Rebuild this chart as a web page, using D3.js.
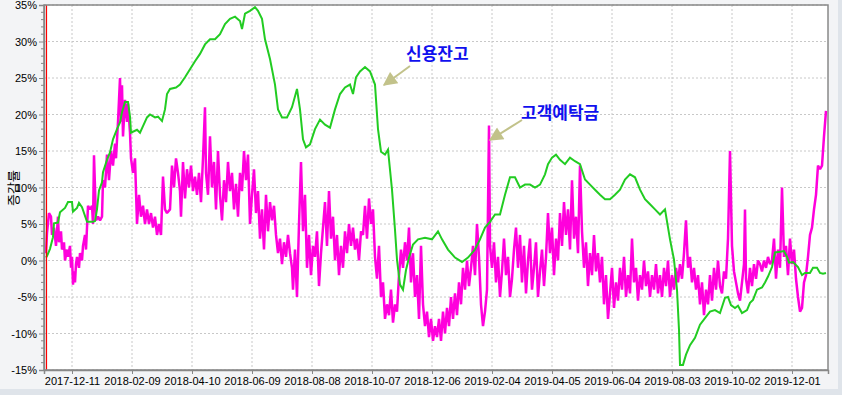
<!DOCTYPE html>
<html>
<head>
<meta charset="utf-8">
<script src="https://cdn.jsdelivr.net/npm/d3@7"></script>
<style>
	html, body { margin: 0; padding: 0; background: #f3f4f6; }
	#chart { display: block; }
	.tick text { font-family: Arial, "Liberation Sans", sans-serif; font-size: 11px; fill: #000; }
</style>
</head>
<body>
<svg id="chart"></svg>
<script>
// day offsets are counted from startDate
var startDate = '2017-11-15';
var tickDates = ['2017-12-11', '2018-02-09', '2018-04-10', '2018-06-09', '2018-08-08', '2018-10-07',
	'2018-12-06', '2019-02-04', '2019-04-05', '2019-06-04', '2019-08-03', '2019-10-02', '2019-12-01'];
var yTicks = [-15, -10, -5, 0, 5, 10, 15, 20, 25, 30, 35];

// 신용잔고
var creditDays = [0,1,4,7,8,12,14,19,22,26,27,31,33,36,38,41,47,49,51,53,56,57,61,64,67,71,74,76,79,82,84,85,91,94,97,101,104,109,112,116,119,121,124,130,134,139,144,149,154,159,164,169,174,179,184,189,194,196,199,204,209,212,216,219,224,229,232,236,241,246,251,254,257,260,264,269,274,279,284,289,294,299,304,307,310,314,319,324,329,332,335,339,342,346,349,351,354,357,360,363,367,372,379,386,392,396,402,409,416,422,429,434,439,444,449,454,459,464,469,474,479,484,489,494,499,502,506,510,514,519,524,529,534,539,544,549,554,559,564,569,574,579,584,589,594,599,604,609,614,619,624,628,631,633,634,637,640,644,649,654,659,664,669,674,679,682,685,689,692,696,701,704,707,711,716,719,722,726,729,734,738,741,743,747,752,756,759,764,767,771,774,777,780];
var creditValues = [0.4,0.6,1.6,3.2,5.1,5.2,6.6,7.2,8.0,8.0,6.7,7.2,7.9,7.3,6.5,5.3,5.3,5.4,7.0,9.6,10.7,12.1,13.8,14.8,16.6,18.0,18.9,20.3,21.7,21.7,19.7,17.5,17.9,17.5,18.4,19.6,20.0,19.6,19.7,19.1,20.7,22.8,23.5,23.7,24.1,25.1,26.2,27.3,28.3,29.6,30.3,30.3,31.0,32.4,33.1,33.4,32.8,31.7,33.8,34.2,34.7,34.2,33.1,30.3,27.6,24.1,20.7,19.6,19.6,21.0,23.5,20.7,16.6,15.5,15.9,18.0,19.3,18.6,18.2,20.7,22.8,23.7,24.1,22.8,25.1,25.9,26.5,25.9,24.1,18.0,14.9,14.5,15.2,9.7,4.2,0.1,-3.3,-4.0,-1.3,0.4,2.2,2.9,3.1,2.9,4.0,2.9,1.5,0.4,-0.2,0.4,1.5,2.9,4.5,5.3,6.3,6.3,9.0,11.4,11.4,10.0,10.4,10.4,10.0,10.4,11.8,13.2,14.1,14.5,13.8,13.2,14.1,13.6,13.2,11.1,10.4,9.7,9.0,8.4,8.4,9.0,9.7,11.1,11.8,11.4,9.7,8.4,7.7,7.0,6.3,7.0,2.9,0.1,-4.0,-9.5,-14.3,-14.3,-12.9,-11.6,-10.6,-8.8,-7.9,-7.0,-6.8,-7.2,-5.1,-5.0,-6.1,-6.5,-6.2,-7.2,-6.8,-5.8,-5.4,-4.0,-3.7,-3.0,-2.2,-0.9,1.1,1.2,1.3,0.5,-0.3,-0.2,-0.9,-2.0,-1.7,-1.7,-1.0,-1.0,-1.7,-1.8,-1.7];

// 고객예탁금
var depositDays = [0,1,3,5,6,8,10,12,13,15,16,18,19,21,22,24,25,26,27,28,29,30,31,33,34,36,37,39,40,42,44,46,47,48,49,50,52,54,56,57,59,61,63,65,67,69,70,72,74,75,76,77,79,81,82,84,85,87,89,91,93,95,97,99,101,103,105,107,109,111,113,115,117,119,121,124,126,128,130,132,134,135,137,139,141,143,145,147,149,151,153,155,157,159,160,162,164,166,168,170,172,174,176,178,180,182,184,186,188,190,192,194,196,198,200,202,204,206,208,210,212,214,216,218,220,222,224,226,228,230,232,234,236,238,240,242,244,246,247,249,251,253,255,257,259,261,263,265,267,269,271,273,275,277,279,281,283,285,287,289,291,293,295,297,299,301,303,305,307,309,311,313,315,317,319,321,323,325,327,329,331,333,335,337,339,341,343,345,347,349,351,353,355,357,359,361,363,365,367,369,371,373,375,377,379,381,383,385,387,389,391,393,395,397,399,401,403,405,407,409,411,413,415,417,419,421,423,425,427,429,431,433,435,437,439,441,443,444,446,448,450,452,454,456,458,460,462,464,466,468,470,472,474,476,478,480,482,484,486,488,490,492,494,496,498,500,502,504,506,508,510,512,514,516,518,520,522,524,526,528,530,532,534,536,538,540,542,544,546,548,550,552,554,556,558,560,562,564,566,568,570,572,574,576,578,580,582,584,586,588,590,592,594,596,598,600,602,604,606,608,610,612,614,616,618,620,622,624,626,628,630,632,634,636,638,640,642,644,646,648,650,652,654,656,658,660,662,664,666,668,670,672,674,676,678,680,682,684,686,688,690,692,694,696,698,699,700,702,704,706,708,710,712,714,716,718,720,722,724,726,728,730,732,734,736,738,740,742,744,746,748,750,752,754,756,758,760,762,764,766,768,770,772,774,776,778,780];
var depositValues = [1.0,3.8,6.5,6.0,3.5,4.5,2.0,6.0,2.5,4.0,1.5,2.5,0.0,1.5,0.5,2.0,-1.0,0.5,-3.3,-1.5,-3.0,-0.5,0.5,-1.0,1.0,0.0,2.0,3.5,1.5,7.5,7.0,7.5,5.0,14.4,10.0,5.5,6.0,5.5,6.0,11.0,10.0,14.5,11.0,15.0,13.0,16.0,14.0,19.0,25.0,19.0,24.0,17.0,22.0,19.0,21.5,17.5,14.0,12.0,14.0,5.0,9.0,6.0,7.5,5.0,7.0,5.0,6.5,4.5,6.0,3.5,5.0,3.5,11.5,7.0,6.5,7.0,13.0,10.0,14.0,12.0,9.5,6.0,13.5,8.5,12.5,10.0,13.0,9.5,11.5,9.0,12.0,8.0,14.0,21.0,12.0,9.0,17.0,10.0,13.5,7.0,15.0,9.0,5.5,11.0,8.0,13.5,9.5,12.0,7.0,10.5,6.0,12.0,9.5,15.0,11.0,14.5,5.0,9.0,12.5,6.5,9.5,3.0,7.0,1.5,9.0,4.0,8.0,5.5,7.5,3.5,1.0,3.0,-0.5,2.5,0.5,3.5,1.0,-1.0,-4.0,1.5,-5.0,5.0,13.5,4.0,9.0,-1.0,3.5,-2.0,2.0,0.5,4.0,-3.5,1.0,4.5,8.0,2.0,9.5,3.0,6.0,0.0,3.5,-2.0,2.0,-1.0,4.0,1.0,5.0,2.0,4.5,1.5,3.0,0.0,4.0,3.5,7.5,3.0,8.5,5.0,7.0,0.5,-2.5,2.0,-5.0,-3.0,-8.0,-6.0,-7.5,-4.0,-8.5,-6.0,-7.0,-2.0,1.5,-1.0,2.5,0.0,4.5,-3.0,1.0,-5.0,-2.0,-8.0,2.0,-6.0,-9.0,-7.0,-10.5,-8.0,-11.0,-9.0,-10.5,-8.0,-11.0,-7.0,-10.0,-6.5,-9.0,-5.0,-8.0,-4.5,-7.5,-3.0,-6.0,-1.0,-4.0,0.0,-3.5,-1.0,2.0,-2.0,5.0,0.5,-6.0,-9.0,-7.0,-4.0,18.5,2.0,-1.0,2.5,-3.0,0.5,-5.0,-1.5,3.0,-2.0,0.5,-5.0,-2.5,1.5,4.5,-1.0,3.5,-3.0,2.0,-4.5,0.0,3.0,-4.0,-1.0,2.5,-5.0,-1.5,1.5,-3.5,0.5,6.5,1.0,4.5,-2.0,3.0,0.0,6.5,2.0,8.0,3.5,7.0,1.5,11.0,3.0,6.0,1.0,13.0,4.0,-1.0,2.5,-3.5,1.0,-2.0,3.5,-1.5,1.0,-3.0,0.5,-6.0,-2.0,-8.0,-4.5,-1.0,-6.5,-3.0,-5.5,-1.0,-4.0,0.5,-5.0,-2.0,-4.5,3.0,-3.0,-1.0,-5.5,-2.0,-4.0,0.0,-3.5,-1.5,-5.0,-2.0,-4.0,-0.5,-4.5,-2.0,-5.0,-1.0,-3.5,0.0,-5.0,-2.0,-4.0,-1.0,-3.0,-0.5,-2.5,1.0,5.5,-1.0,0.5,-3.0,-1.0,-4.0,-2.0,-6.0,-3.0,-7.5,-4.0,-6.0,-2.0,-5.5,-1.0,-4.0,0.0,-3.5,-4.5,-1.5,-2.5,3.0,15.0,2.0,-1.5,-3.0,-4.5,-5.5,-3.0,-0.5,7.0,-2.5,-4.5,-1.0,-3.5,-0.5,-2.5,0.0,-0.5,-1.5,0.0,-1.0,0.5,-0.5,0.0,3.0,-2.5,1.5,-1.0,10.0,0.5,2.0,-2.0,3.0,-0.5,1.5,-2.5,-5.0,-7.0,-6.5,-3.0,-2.0,0.5,3.5,4.5,7.0,9.0,13.0,12.5,13.0,17.0,20.5];

var width = 842,
    height = 395;

var margin = {top: 5, right: 14, bottom: 25, left: 44};

var svg = d3.select('#chart')
	.attr('width', width)
	.attr('height', height);

var parse = d3.utcParse('%Y-%m-%d');
var start = parse(startDate);

var x = d3.scaleUtc()
	.domain([d3.utcDay.offset(start, -2), d3.utcDay.offset(start, 782)])
	.range([margin.left, width - margin.right]);

var y = d3.scaleLinear()
	.domain([-15, 35])
	.range([height - margin.bottom, margin.top]);

// window chrome
svg.append('rect')
	.attr('x', 838).attr('y', 0)
	.attr('width', 4).attr('height', height)
	.attr('fill', '#dfe4ea');
svg.append('rect')
	.attr('x', 0).attr('y', 389)
	.attr('width', width).attr('height', 6)
	.attr('fill', '#dfe4ea');

// plot area
svg.append('rect')
	.attr('x', x.range()[0])
	.attr('y', y.range()[1])
	.attr('width', x.range()[1] - x.range()[0])
	.attr('height', y.range()[0] - y.range()[1])
	.attr('fill', '#fff');

var grid = svg.append('g');

grid.selectAll('.hgrid')
	.data(yTicks)
	.enter()
	.append('line')
	.attr('x1', x.range()[0])
	.attr('x2', x.range()[1])
	.attr('y1', d => y(d))
	.attr('y2', d => y(d))
	.attr('stroke', '#c8c8c8')
	.attr('stroke-dasharray', '2,2');

grid.selectAll('.vgrid')
	.data(tickDates)
	.enter()
	.append('line')
	.attr('x1', d => x(parse(d)))
	.attr('x2', d => x(parse(d)))
	.attr('y1', y.range()[1])
	.attr('y2', y.range()[0])
	.attr('stroke', '#c8c8c8')
	.attr('stroke-dasharray', '2,2');

var deposits = depositDays.map((d, i) => ({date: d3.utcDay.offset(start, d), value: depositValues[i]}));
var credits = creditDays.map((d, i) => ({date: d3.utcDay.offset(start, d), value: creditValues[i]}));

var line = d3.line()
	.x(d => x(d.date))
	.y(d => y(d.value));

svg.append('path')
	.datum(deposits)
	.attr('d', line)
	.attr('fill', 'none')
	.attr('stroke', '#ff00dc')
	.attr('stroke-width', 2.5)
	.attr('stroke-linejoin', 'bevel');

svg.append('path')
	.datum(credits)
	.attr('d', line)
	.attr('fill', 'none')
	.attr('stroke', '#22cc22')
	.attr('stroke-width', 2);

// start marker
svg.append('line')
	.attr('x1', x(start) + 0.5)
	.attr('x2', x(start) + 0.5)
	.attr('y1', y.range()[1])
	.attr('y2', y.range()[0])
	.attr('stroke', '#ff0000')
	.attr('stroke-width', 1.2);

// frame
svg.append('rect')
	.attr('x', x.range()[0])
	.attr('y', y.range()[1])
	.attr('width', x.range()[1] - x.range()[0])
	.attr('height', y.range()[0] - y.range()[1])
	.attr('fill', 'none')
	.attr('stroke', '#888')
	.attr('stroke-width', 1.5);

var yAxis = svg.append('g')
	.attr('transform', `translate(${x.range()[0]},0)`)
	.call(d3.axisLeft(y)
		.tickValues(yTicks)
		.tickSize(5)
		.tickPadding(2)
		.tickFormat(d => d + '%'));

yAxis.append('g')
	.selectAll('line')
	.data(d3.range(-15, 36).filter(d => d % 5 !== 0))
	.enter()
	.append('line')
	.attr('x1', -3)
	.attr('x2', 0)
	.attr('y1', d => y(d))
	.attr('y2', d => y(d))
	.attr('stroke', '#888');

var xAxis = svg.append('g')
	.attr('transform', `translate(0,${y.range()[0]})`)
	.call(d3.axisBottom(x)
		.tickValues(tickDates.map(parse))
		.tickSize(4)
		.tickPadding(3)
		.tickFormat(d3.utcFormat('%Y-%m-%d')));

svg.selectAll('.domain').attr('stroke', '#888').attr('stroke-width', 1.5);
svg.selectAll('.tick line').attr('stroke', '#888');

svg.append('text')
	.attr('transform', 'translate(13,188) rotate(-90)')
	.attr('text-anchor', 'middle')
	.attr('dy', '0.35em')
	.style('font-family', '"Noto Sans CJK KR", sans-serif')
	.style('font-size', '13px')
	.text('증감률');

// annotations
var notes = [
	{text: '신용잔고', tx: 406, ty: 60, from: [410, 66], to: [384, 85]},
	{text: '고객예탁금', tx: 521, ty: 119, from: [522, 120], to: [490, 140]}
];

svg.append('defs')
	.append('marker')
	.attr('id', 'head')
	.attr('viewBox', '0 0 10 10')
	.attr('refX', 9)
	.attr('refY', 5)
	.attr('markerWidth', 16)
	.attr('markerHeight', 14)
	.attr('markerUnits', 'userSpaceOnUse')
	.attr('orient', 'auto')
	.append('path')
	.attr('d', 'M0,0L10,5L0,10z')
	.attr('fill', '#c2c28a');

var note = svg.selectAll('.note')
	.data(notes)
	.enter()
	.append('g');

note.append('line')
	.attr('x1', d => d.from[0])
	.attr('y1', d => d.from[1])
	.attr('x2', d => d.to[0])
	.attr('y2', d => d.to[1])
	.attr('stroke', '#c2c28a')
	.attr('stroke-width', 2)
	.attr('marker-end', 'url(#head)');

note.append('text')
	.attr('x', d => d.tx)
	.attr('y', d => d.ty)
	.style('font-family', '"Noto Sans CJK KR", sans-serif')
	.style('font-size', '17px')
	.style('font-weight', 'bold')
	.attr('fill', '#1010ee')
	.text(d => d.text);
</script>
</body>
</html>
